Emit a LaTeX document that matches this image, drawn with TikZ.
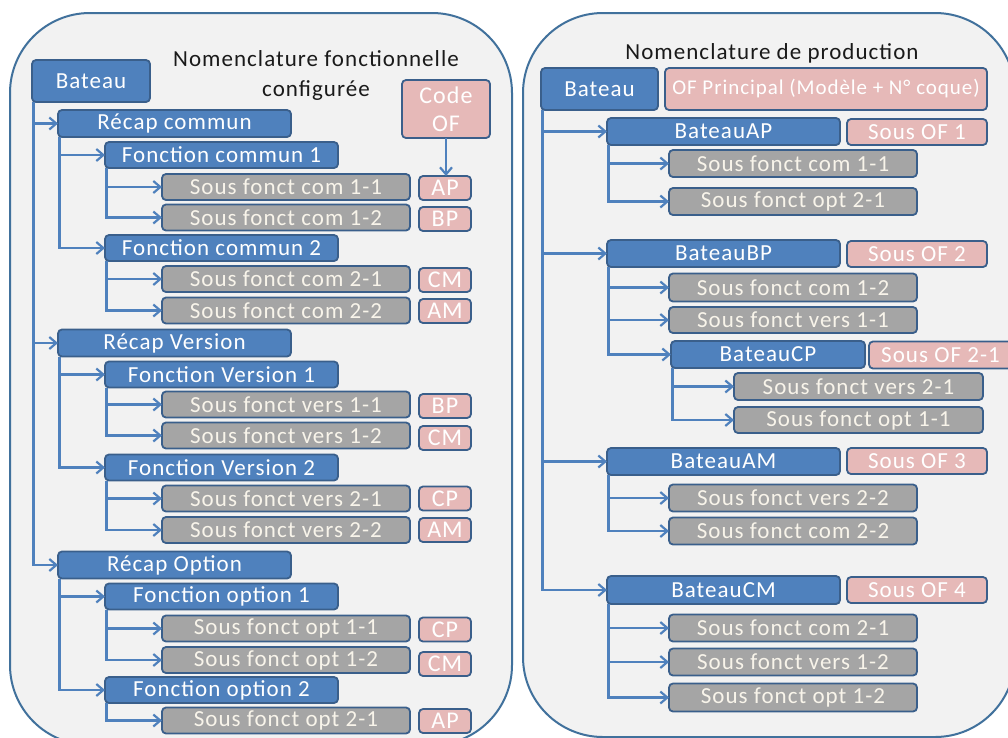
\documentclass[tikz,border=0pt]{standalone}
\usepackage{fontspec}
\setmainfont{Carlito}[LetterSpace=4.5]
\usetikzlibrary{arrows.meta}

\definecolor{panelfill}{HTML}{F2F2F2}
\definecolor{paneledge}{HTML}{41719C}
\definecolor{boxedge}{HTML}{3A5F8B}
\definecolor{boxblue}{HTML}{4F81BD}
\definecolor{boxgray}{HTML}{A5A5A5}
\definecolor{boxpink}{HTML}{E6B9B8}
\definecolor{linkblue}{HTML}{4F81BD}
\definecolor{lighttext}{HTML}{F8F4EA}
\definecolor{titletext}{HTML}{1A1A1A}

\tikzset{
  panel/.style={fill=panelfill, draw=paneledge, line width=2pt, rounded corners=80pt},
  box/.style={draw=boxedge, line width=1.8pt, rounded corners=4pt, inner sep=0pt, outer sep=0pt,
              text=white, font=\fontsize{23}{26}\selectfont},
  bluebox/.style={box, fill=boxblue},
  graybox/.style={box, fill=boxgray, text=lighttext, minimum width=248pt, minimum height=26pt},
  pinkbox/.style={box, fill=boxpink, text=white},
  codetag/.style={pinkbox, minimum width=52pt, minimum height=24pt, font=\fontsize{24}{26}\selectfont},
  recapbox/.style={bluebox, minimum width=233pt, minimum height=27pt},
  fctbox/.style={bluebox, minimum width=233pt, minimum height=26pt},
  subof/.style={pinkbox, minimum width=140pt, minimum height=26pt},
  heading/.style={text=titletext, font=\fontsize{23}{30}\selectfont, align=center, inner sep=0pt},
  link/.style={draw=linkblue, line width=2.2pt, -{Straight Barb[length=7pt,width=12pt]}},
}

\begin{document}
\begin{tikzpicture}[x=1pt, y=-1pt]
\useasboundingbox (0,0) rectangle (1008,737);
\clip (0,0) rectangle (1008,737);
\fill[white] (0,0) rectangle (1008,737);

% the two frames
\draw[panel] (10,13) rectangle (512,745);
\draw[panel] (523,13) rectangle (1015,737);

% ---------- functional bill of materials ----------
\node[heading] (titleL) at (316,75) {Nomenclature fonctionnelle\\configurée};

\node[bluebox, minimum width=118pt, minimum height=42pt] (batL) at (91,81) {Bateau};
\node[pinkbox, minimum width=88pt, minimum height=58pt, align=center,
      font=\fontsize{24}{28}\selectfont] (codeOF) at (446,109) {Code\\OF};

\node[recapbox] (recC) at (174.5,123.5) {Récap commun};
\node[fctbox] (fc1) at (221.5,155) {Fonction commun 1};
\node[graybox] (sfc11) at (286,187) {Sous fonct com 1-1};
\node[codetag] (tc11) at (445,188) {AP};
\node[graybox] (sfc12) at (286,217.5) {Sous fonct com 1-2};
\node[codetag] (tc12) at (445,219) {BP};
\node[fctbox] (fc2) at (221.5,248) {Fonction commun 2};
\node[graybox] (sfc21) at (286,279) {Sous fonct com 2-1};
\node[codetag] (tc21) at (445,280) {CM};
\node[graybox] (sfc22) at (286,310.5) {Sous fonct com 2-2};
\node[codetag] (tc22) at (445,311) {AM};

\node[recapbox] (recV) at (174.5,343) {Récap Version};
\node[fctbox] (fv1) at (221.5,374.5) {Fonction Version 1};
\node[graybox] (sfv11) at (286,404.5) {Sous fonct vers 1-1};
\node[codetag] (tv11) at (445,406) {BP};
\node[graybox] (sfv12) at (286,435.5) {Sous fonct vers 1-2};
\node[codetag] (tv12) at (445,438) {CM};
\node[fctbox] (fv2) at (221.5,467.5) {Fonction Version 2};
\node[graybox] (sfv21) at (286,498.5) {Sous fonct vers 2-1};
\node[codetag] (tv21) at (445,498.5) {CP};
\node[graybox] (sfv22) at (286,530) {Sous fonct vers 2-2};
\node[codetag] (tv22) at (445,530) {AM};

\node[recapbox] (recO) at (174.5,565) {Récap Option};
\node[fctbox] (fo1) at (221.5,596.5) {Fonction option 1};
\node[graybox] (sfo11) at (286,628.5) {Sous fonct opt 1-1};
\node[codetag] (to11) at (445,629.5) {CP};
\node[graybox] (sfo12) at (286,660) {Sous fonct opt 1-2};
\node[codetag] (to12) at (445,664) {CM};
\node[fctbox] (fo2) at (221.5,690) {Fonction option 2};
\node[graybox] (sfo21) at (286,720.5) {Sous fonct opt 2-1};
\node[codetag] (to21) at (445,721) {AP};

% tree links, left frame
\foreach \child in {recC,recV,recO}
  \draw[link] ([xshift=1.5pt]batL.south west) |- (\child.west);
\foreach \child in {fc1,fc2}
  \draw[link] ([xshift=1.5pt]recC.south west) |- (\child.west);
\foreach \child in {sfc11,sfc12}
  \draw[link] ([xshift=1.5pt]fc1.south west) |- (\child.west);
\foreach \child in {sfc21,sfc22}
  \draw[link] ([xshift=1.5pt]fc2.south west) |- (\child.west);
\foreach \child in {fv1,fv2}
  \draw[link] ([xshift=1.5pt]recV.south west) |- (\child.west);
\foreach \child in {sfv11,sfv12}
  \draw[link] ([xshift=1.5pt]fv1.south west) |- (\child.west);
\foreach \child in {sfv21,sfv22}
  \draw[link] ([xshift=1.5pt]fv2.south west) |- (\child.west);
\foreach \child in {fo1,fo2}
  \draw[link] ([xshift=1.5pt]recO.south west) |- (\child.west);
\foreach \child in {sfo11,sfo12}
  \draw[link] ([xshift=1.5pt]fo1.south west) |- (\child.west);
\draw[link] ([xshift=1.5pt]fo2.south west) |- (sfo21.west);
\draw[link] (codeOF.south) -- (codeOF.south |- tc11.north);

% ---------- production bill of materials ----------
\node[heading] (titleR) at (772,53) {Nomenclature de production};

\node[bluebox, minimum width=117pt, minimum height=42pt] (batR) at (599.5,89) {Bateau};
\node[pinkbox, minimum width=322pt, minimum height=42pt,
      font=\fontsize{21}{24}\selectfont] (ofp) at (826,89) {OF Principal (Modèle + N° coque)};

\node[recapbox] (bAP) at (723.5,131.5) {BateauAP};
\node[subof] (of1) at (917,132) {Sous OF 1};
\node[graybox, minimum height=27pt] (rc11) at (793,163.5) {Sous fonct com 1-1};
\node[graybox, minimum height=27pt] (ro21) at (793,201.5) {Sous fonct opt 2-1};

\node[recapbox] (bBP) at (723.5,253.5) {BateauBP};
\node[subof] (of2) at (917,254) {Sous OF 2};
\node[graybox, minimum height=28pt] (rc12) at (793,287.5) {Sous fonct com 1-2};
\node[graybox] (rv11) at (793,320) {Sous fonct vers 1-1};
\node[bluebox, minimum width=194pt, minimum height=27pt] (bCP) at (768,354.5) {BateauCP};
\node[pinkbox, minimum width=143pt, minimum height=27pt] (of21) at (940.5,355) {Sous OF 2-1};
\node[graybox, minimum width=249pt, minimum height=27pt] (rv21) at (858.5,386.5) {Sous fonct vers 2-1};
\node[graybox, minimum width=249pt] (ro11) at (858.5,420) {Sous fonct opt 1-1};

\node[recapbox] (bAM) at (723.5,461.5) {BateauAM};
\node[subof] (of3) at (917,461) {Sous OF 3};
\node[graybox, minimum height=27pt] (rv22) at (793,498) {Sous fonct vers 2-2};
\node[graybox, minimum height=27pt] (rc22) at (793,531) {Sous fonct com 2-2};

\node[recapbox, minimum height=28pt] (bCM) at (723.5,590) {BateauCM};
\node[subof] (of4) at (917,590) {Sous OF 4};
\node[graybox, minimum height=27pt] (rc21) at (793,628) {Sous fonct com 2-1};
\node[graybox, minimum height=27pt] (rv12) at (793,662) {Sous fonct vers 1-2};
\node[graybox, minimum height=28pt] (ro12) at (793,697.5) {Sous fonct opt 1-2};

% tree links, right frame
\foreach \child in {bAP,bBP,bAM,bCM}
  \draw[link] ([xshift=1.5pt]batR.south west) |- (\child.west);
\foreach \child in {rc11,ro21}
  \draw[link] ([xshift=1.5pt]bAP.south west) |- (\child.west);
\foreach \child in {rc12,rv11,bCP}
  \draw[link] ([xshift=1.5pt]bBP.south west) |- (\child.west);
\foreach \child in {rv21,ro11}
  \draw[link] ([xshift=1.5pt]bCP.south west) |- (\child.west);
\foreach \child in {rv22,rc22}
  \draw[link] ([xshift=1.5pt]bAM.south west) |- (\child.west);
\foreach \child in {rc21,rv12,ro12}
  \draw[link] ([xshift=1.5pt]bCM.south west) |- (\child.west);
\end{tikzpicture}
\end{document}
